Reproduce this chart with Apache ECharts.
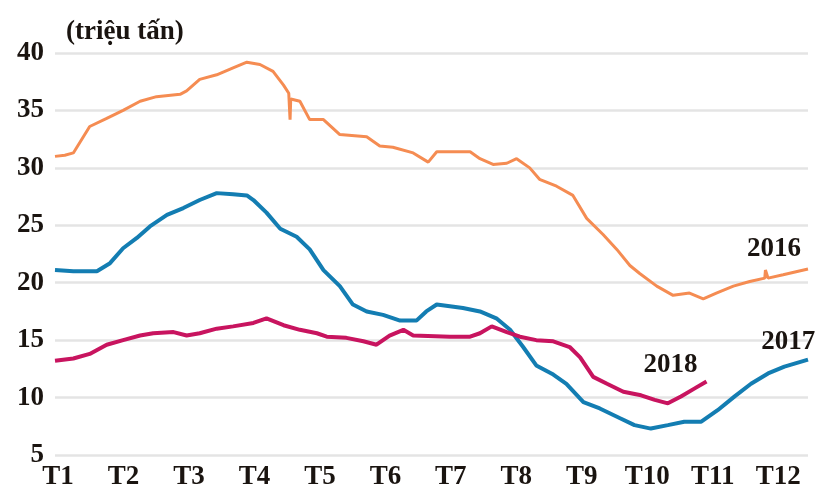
<!DOCTYPE html>
<html>
<head>
<meta charset="utf-8">
<script src="https://cdn.jsdelivr.net/npm/echarts@6/dist/echarts.min.js"></script>
<style>
  html, body { margin: 0; padding: 0; background: #fff; }
  #chart { width: 818px; height: 493px; }
</style>
</head>
<body>
<div id="chart"></div>
<script>
// months on x, position 0 = T1 ... 11 = T12
var monthLabels = ['T1','T2','T3','T4','T5','T6','T7','T8','T9','T10','T11','T12']

// 2016
var x2016 = [0, 0.15, 0.28, 0.53, 0.79, 1.04, 1.30, 1.55, 1.91, 2.01, 2.21, 2.47, 2.72, 2.93, 3.13, 3.33, 3.49, 3.57, 3.59, 3.60,
             3.74, 3.89, 4.10, 4.35, 4.76, 4.96, 5.16, 5.47, 5.70, 5.83, 6.34, 6.49, 6.69, 6.90, 7.05, 7.25, 7.40, 7.66, 7.91,
             8.12, 8.37, 8.58, 8.78, 8.93, 9.19, 9.44, 9.69, 9.90, 10.10, 10.36, 10.61, 10.84, 10.85, 10.89, 11.12, 11.50]
var y2016 = [31.0, 31.1, 31.3, 33.6, 34.3, 35.0, 35.8, 36.2, 36.4, 36.7, 37.7, 38.1, 38.7, 39.2, 39.0, 38.4, 37.2, 36.5, 34.2, 36.0,
             35.8, 34.2, 34.2, 32.9, 32.7, 31.9, 31.8, 31.3, 30.5, 31.4, 31.4, 30.8, 30.3, 30.4, 30.8, 30.0, 29.0, 28.4, 27.6,
             25.6, 24.2, 22.9, 21.5, 20.8, 19.7, 18.9, 19.1, 18.6, 19.1, 19.7, 20.1, 20.4, 21.1, 20.4, 20.7, 21.2]

// 2017
var x2017 = [0, 0.28, 0.64, 0.84, 1.04, 1.25, 1.45, 1.71, 1.96, 2.21, 2.47, 2.72, 2.93, 3.03, 3.23, 3.44, 3.69, 3.89, 4.10, 4.35,
             4.55, 4.76, 5.01, 5.27, 5.52, 5.67, 5.83, 6.23, 6.49, 6.74, 6.95, 7.15, 7.35, 7.61, 7.81, 8.07, 8.32, 8.63, 8.85,
             9.10, 9.36, 9.61, 9.87, 10.12, 10.38, 10.63, 10.89, 11.14, 11.50]
var y2017 = [21.1, 21.0, 21.0, 21.7, 23.0, 23.9, 24.9, 25.9, 26.5, 27.2, 27.8, 27.7, 27.6, 27.2, 26.1, 24.7, 24.0, 22.9, 21.1, 19.7,
             18.1, 17.5, 17.2, 16.7, 16.7, 17.5, 18.1, 17.8, 17.5, 16.9, 15.9, 14.4, 12.8, 12.0, 11.2, 9.6, 9.05, 8.2, 7.6,
             7.3, 7.6, 7.9, 7.9, 8.9, 10.1, 11.2, 12.1, 12.7, 13.3]

// 2018
var x2018 = [0, 0.28, 0.53, 0.79, 1.04, 1.30, 1.50, 1.81, 2.01, 2.21, 2.47, 2.72, 3.03, 3.23, 3.49, 3.74, 4.00, 4.15, 4.45, 4.71,
             4.91, 5.11, 5.32, 5.47, 6.03, 6.34, 6.49, 6.67, 6.90, 7.10, 7.35, 7.61, 7.86, 8.02, 8.22, 8.43, 8.68, 8.95, 9.16,
             9.36, 9.56, 9.77, 9.95]
var y2018 = [13.2, 13.4, 13.8, 14.6, 15.0, 15.4, 15.6, 15.7, 15.4, 15.6, 16.0, 16.2, 16.5, 16.9, 16.3, 15.9, 15.6, 15.3, 15.2, 14.9,
             14.6, 15.4, 15.9, 15.4, 15.3, 15.3, 15.6, 16.2, 15.7, 15.3, 15.0, 14.9, 14.4, 13.5, 11.8, 11.2, 10.5, 10.2, 9.8,
             9.5, 10.1, 10.8, 11.4]

var yTicks = [5, 40, 5]   // min, max, step

function zip(xs, ys) {
    var out = []
    for (var i in xs) {
        out.push([xs[i], ys[i]])
    }
    return out
}

var font = '"Liberation Serif", "Times New Roman", serif'
var textColor = '#1a1410'

function yearLabel(text, coord) {
    return {
        symbol: 'circle',
        symbolSize: 1,
        itemStyle: { color: 'rgba(0,0,0,0)' },
        label: {
            show: true, position: 'inside', formatter: text,
            fontFamily: font, fontWeight: 'bold', fontSize: 27, color: textColor
        },
        data: [{ coord: coord }]
    }
}

function makeChart() {
    var chart = echarts.init(document.getElementById('chart'), null, { renderer: 'canvas' })
    var option = {
        animation: false,
        backgroundColor: '#fff',
        title: {
            text: '(triệu tấn)',
            left: 61, top: 14,
            textStyle: { fontFamily: font, fontWeight: 'bold', fontSize: 27, color: textColor }
        },
        grid: { left: 55, right: 10, top: 53, bottom: 38 },
        xAxis: {
            type: 'value', min: 0, max: 11.5, interval: 1,
            axisLine: { show: false }, axisTick: { show: false }, splitLine: { show: false },
            axisLabel: {
                margin: 9, padding: [0, 0, 0, 6],
                fontFamily: font, fontWeight: 'bold', fontSize: 27, color: textColor,
                showMaxLabel: false,
                formatter: function (v) { return monthLabels[v] || '' }
            }
        },
        yAxis: {
            type: 'value', min: yTicks[0], max: yTicks[1], interval: yTicks[2],
            axisLine: { show: false }, axisTick: { show: false },
            splitLine: { lineStyle: { color: '#e4e4e4', width: 2.5 } },
            axisLabel: { margin: 11, fontFamily: font, fontWeight: 'bold', fontSize: 27, color: textColor }
        },
        series: [
            {
                name: '2016', type: 'line', data: zip(x2016, y2016), showSymbol: false,
                lineStyle: { color: '#f58c52', width: 3 },
                markPoint: yearLabel('2016', [10.98, 22.9])
            },
            {
                name: '2017', type: 'line', data: zip(x2017, y2017), showSymbol: false,
                lineStyle: { color: '#137db2', width: 4 },
                markPoint: yearLabel('2017', [11.2, 14.8])
            },
            {
                name: '2018', type: 'line', data: zip(x2018, y2018), showSymbol: false,
                lineStyle: { color: '#c8145f', width: 4 },
                markPoint: yearLabel('2018', [9.40, 12.8])
            }
        ]
    }
    chart.setOption(option)
}

makeChart()
</script>
</body>
</html>
